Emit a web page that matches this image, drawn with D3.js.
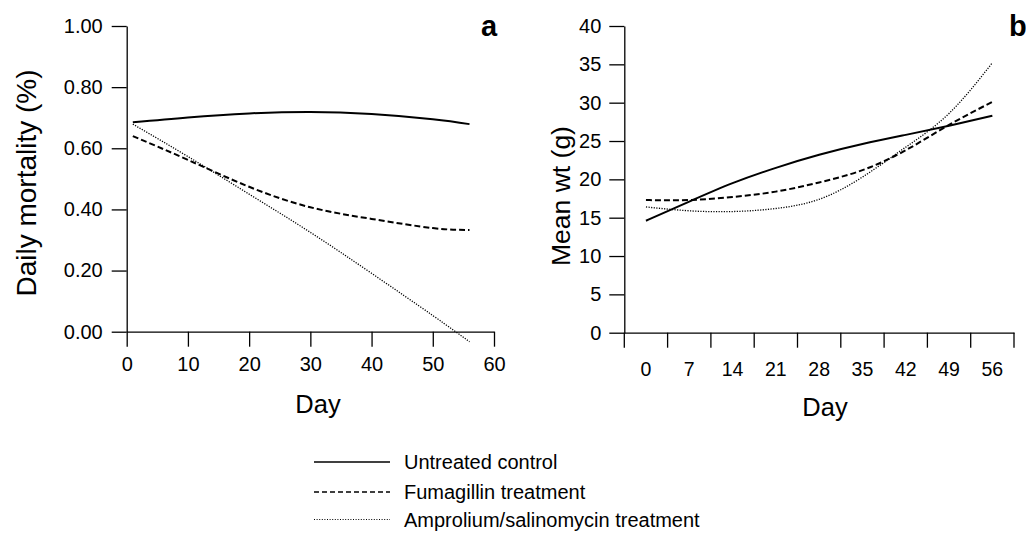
<!DOCTYPE html>
<html>
<head>
<meta charset="utf-8">
<script src="https://cdn.jsdelivr.net/npm/d3@7"></script>
<style>
  body { margin: 0; background: #fff; }
  svg { font-family: "Liberation Sans", Arial, sans-serif; }
</style>
</head>
<body>
<script>

// Panel a: daily mortality (%) by day
const daysA = [1, 10, 20, 30, 40, 50, 56];
const controlA = [0.685, 0.701, 0.714, 0.719, 0.712, 0.695, 0.679];
const fumagA = [0.640, 0.562, 0.474, 0.407, 0.369, 0.339, 0.333];
const amproA = [0.679, 0.573, 0.450, 0.325, 0.191, 0.053, -0.033];
const xTicksA = [0, 10, 20, 30, 40, 50, 60];
const yTicksA = [0, 0.2, 0.4, 0.6, 0.8, 1.0];

// Panel b: mean weight (g) by day
const daysB = [0, 7, 14, 21, 28, 35, 42, 49, 56];
const controlB = [14.6, 17.1, 19.5, 21.5, 23.2, 24.6, 25.8, 27.0, 28.3];
const fumagB = [17.3, 17.3, 17.7, 18.4, 19.6, 21.2, 23.8, 27.1, 30.1];
const amproB = [16.4, 15.9, 15.8, 16.2, 17.4, 20.3, 24.2, 28.6, 35.2];
const yTicksB = [0, 5, 10, 15, 20, 25, 30, 35, 40];

const seriesNames = ["Untreated control", "Fumagillin treatment", "Amprolium/salinomycin treatment"];

const width = 1026;
const height = 546;

const svg = d3.create("svg")
    .attr("width", width)
    .attr("height", height)
    .attr("viewBox", [0, 0, width, height]);

// line styles for the three treatments
const styles = [
    {dash: null, w: 2},
    {dash: "6,3", w: 2},
    {dash: "1.2,1.4", w: 1.3}
];

function styleAxis(g, size){
    g.select(".domain").attr("stroke", "#000").attr("stroke-width", 1.3);
    g.selectAll(".tick line").attr("stroke", "#000").attr("stroke-width", 1.3);
    g.selectAll(".tick text").attr("fill", "#000").attr("font-size", size);
}

// ---------- panel a ----------
const xa = d3.scaleLinear([0, 60], [126.7, 494]);
const ya = d3.scaleLinear([0, 1], [331.7, 26]);

svg.append("g")
    .attr("transform", `translate(0,${ya(0)})`)
    .call(d3.axisBottom(xa).tickValues(xTicksA).tickSize(15).tickPadding(10).tickSizeOuter(0))
    .call(g => styleAxis(g, 20));

svg.append("g")
    .attr("transform", `translate(${xa(0)},0)`)
    .call(d3.axisLeft(ya).tickValues(yTicksA).tickFormat(d3.format(".2f")).tickSize(15).tickPadding(9).tickSizeOuter(0))
    .call(g => styleAxis(g, 20));

const lineA = d3.line()
    .x(d => xa(d[0]))
    .y(d => ya(d[1]))
    .curve(d3.curveNatural);

[controlA, fumagA, amproA].forEach(function(vals, i){
    svg.append("path")
        .attr("fill", "none")
        .attr("stroke", "#000")
        .attr("stroke-width", styles[i].w)
        .attr("stroke-dasharray", styles[i].dash)
        .attr("d", lineA(daysA.map((d, j) => [d, vals[j]])));
});

svg.append("text")
    .attr("transform", "translate(36,183) rotate(-90)")
    .attr("text-anchor", "middle")
    .attr("font-size", 28)
    .text("Daily mortality (%)");

svg.append("text")
    .attr("x", 318).attr("y", 413)
    .attr("text-anchor", "middle")
    .attr("font-size", 25.5)
    .text("Day");

svg.append("text")
    .attr("x", 481).attr("y", 36)
    .attr("font-size", 29)
    .attr("font-weight", "bold")
    .text("a");

// ---------- panel b ----------
const xb = d3.scaleBand(daysB, [624.3, 1014]).padding(0);
const yb = d3.scaleLinear([0, 40], [332.7, 26]);
const half = xb.bandwidth() / 2;

// category labels sit in the middle of each band, ticks at band edges
svg.append("g")
    .attr("transform", `translate(0,${yb(0)})`)
    .call(d3.axisBottom(xb).tickSize(0).tickPadding(29.5).tickSizeOuter(0))
    .call(g => styleAxis(g, 19.5));

const edges = daysB.map(d => xb(d)).concat([xb.range()[1]]);
svg.append("g")
    .selectAll("line")
    .data(edges)
    .join("line")
        .attr("x1", d => d).attr("x2", d => d)
        .attr("y1", yb(0)).attr("y2", yb(0) + 15)
        .attr("stroke", "#000")
        .attr("stroke-width", 1.3);

svg.append("g")
    .attr("transform", `translate(${xb.range()[0]},0)`)
    .call(d3.axisLeft(yb).tickValues(yTicksB).tickSize(15).tickPadding(8).tickSizeOuter(0))
    .call(g => styleAxis(g, 20));

const lineB = d3.line()
    .x(d => xb(d[0]) + half)
    .y(d => yb(d[1]))
    .curve(d3.curveNatural);

[controlB, fumagB, amproB].forEach(function(vals, i){
    svg.append("path")
        .attr("fill", "none")
        .attr("stroke", "#000")
        .attr("stroke-width", styles[i].w)
        .attr("stroke-dasharray", styles[i].dash)
        .attr("d", lineB(daysB.map((d, j) => [d, vals[j]])));
});

svg.append("text")
    .attr("transform", "translate(570,196) rotate(-90)")
    .attr("text-anchor", "middle")
    .attr("font-size", 26.5)
    .text("Mean wt (g)");

svg.append("text")
    .attr("x", 825).attr("y", 416)
    .attr("text-anchor", "middle")
    .attr("font-size", 25.5)
    .text("Day");

svg.append("text")
    .attr("x", 1009).attr("y", 36)
    .attr("font-size", 29)
    .attr("font-weight", "bold")
    .text("b");

// ---------- legend ----------
const legendY = [462, 492, 519.5];
const legend = svg.append("g");
seriesNames.forEach(function(name, i){
    legend.append("line")
        .attr("x1", 314).attr("x2", 390)
        .attr("y1", legendY[i]).attr("y2", legendY[i])
        .attr("stroke", "#000")
        .attr("stroke-width", i == 2 ? 1.2 : 1.5)
        .attr("stroke-dasharray", i == 1 ? "5,3" : (i == 2 ? "1,1.6" : null));
    legend.append("text")
        .attr("x", 404)
        .attr("y", legendY[i])
        .attr("dy", "0.35em")
        .attr("font-size", 20)
        .text(name);
});

document.body.appendChild(svg.node());
</script>
</body>
</html>
